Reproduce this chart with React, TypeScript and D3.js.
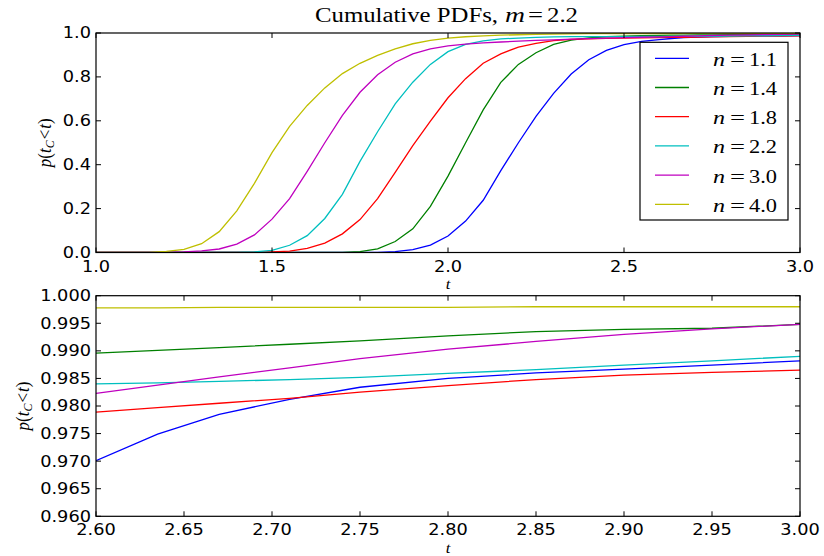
import React from 'react';
import * as d3 from 'd3';

// t grid shared by all series
const T = [1.0, 1.05, 1.1, 1.15, 1.2, 1.25, 1.3, 1.35, 1.4, 1.45, 1.5, 1.55, 1.6, 1.65, 1.7, 1.75, 1.8, 1.85, 1.9, 1.95,
  2.0, 2.05, 2.1, 2.15, 2.2, 2.25, 2.3, 2.35, 2.4, 2.45, 2.5, 2.55, 2.6, 2.635, 2.67, 2.71, 2.75, 2.8, 2.85, 2.9, 2.95, 3.0];

const n11 = [0, 0, 0, 0, 0, 0, 0, 0, 0, 0, 0, 0, 0, 0, 0, 0, 0.001, 0.004, 0.013, 0.034,
  0.075, 0.143, 0.238, 0.373, 0.5, 0.62, 0.725, 0.813, 0.878, 0.921, 0.947, 0.962, 0.9701, 0.9749, 0.9785, 0.9812, 0.9834, 0.985, 0.986, 0.9867, 0.9874, 0.9882];
const n14 = [0, 0, 0, 0, 0, 0, 0, 0, 0, 0, 0, 0, 0, 0.0005, 0.001, 0.004, 0.017, 0.05, 0.108, 0.21,
  0.348, 0.5, 0.65, 0.775, 0.857, 0.91, 0.948, 0.968, 0.978, 0.983, 0.986, 0.988, 0.9896, 0.9901, 0.9906, 0.9912, 0.9918, 0.9927, 0.9935, 0.9939, 0.9941, 0.9948];
const n18 = [0, 0, 0, 0, 0, 0, 0, 0, 0, 0.001, 0.003, 0.006, 0.019, 0.043, 0.085, 0.15, 0.245, 0.365, 0.487, 0.598,
  0.705, 0.792, 0.862, 0.905, 0.936, 0.953, 0.965, 0.971, 0.9735, 0.9752, 0.9766, 0.9778, 0.9789, 0.9797, 0.9805, 0.9814, 0.9825, 0.9837, 0.9848, 0.9856, 0.9861, 0.9865];
const n22 = [0, 0, 0, 0, 0, 0, 0, 0, 0.001, 0.003, 0.01, 0.033, 0.077, 0.155, 0.265, 0.415, 0.55, 0.677, 0.776, 0.857,
  0.915, 0.948, 0.964, 0.973, 0.977, 0.98, 0.982, 0.9832, 0.9836, 0.9838, 0.9839, 0.98395, 0.984, 0.9842, 0.98445, 0.9848, 0.9852, 0.9859, 0.9866, 0.9874, 0.9882, 0.989];
const n30 = [0, 0, 0, 0, 0.001, 0.003, 0.007, 0.016, 0.038, 0.08, 0.152, 0.245, 0.37, 0.5, 0.625, 0.73, 0.81, 0.867, 0.905, 0.928,
  0.941, 0.949, 0.955, 0.959, 0.963, 0.966, 0.969, 0.972, 0.9745, 0.977, 0.979, 0.9807, 0.9823, 0.9838, 0.9853, 0.9869, 0.9886, 0.9903, 0.9917, 0.993, 0.994, 0.9948];
const n40 = [0, 0, 0.0002, 0.001, 0.005, 0.014, 0.04, 0.095, 0.19, 0.315, 0.455, 0.575, 0.67, 0.75, 0.815, 0.862, 0.898, 0.928, 0.951, 0.966,
  0.977, 0.983, 0.987, 0.99, 0.992, 0.994, 0.995, 0.996, 0.9967, 0.9972, 0.9975, 0.9977, 0.9978, 0.9978, 0.9979, 0.9979, 0.9979, 0.9979, 0.998, 0.998, 0.998, 0.998];

const seriesValues = [n11, n14, n18, n22, n30, n40];
const seriesLabels = ['1.1', '1.4', '1.8', '2.2', '3.0', '4.0'];
const seriesColors = ['#0000ff', '#008000', '#ff0000', '#00bfbf', '#bf00bf', '#bfbf00'];

const topXTicks = [1.0, 1.5, 2.0, 2.5, 3.0];
const topXTickLabels = ['1.0', '1.5', '2.0', '2.5', '3.0'];
const topYTicks = [0, 0.2, 0.4, 0.6, 0.8, 1.0];
const topYTickLabels = ['0.0', '0.2', '0.4', '0.6', '0.8', '1.0'];
const botXTicks = [2.6, 2.65, 2.7, 2.75, 2.8, 2.85, 2.9, 2.95, 3.0];
const botXTickLabels = ['2.60', '2.65', '2.70', '2.75', '2.80', '2.85', '2.90', '2.95', '3.00'];
const botYTicks = [0.96, 0.965, 0.97, 0.975, 0.98, 0.985, 0.99, 0.995, 1.0];
const botYTickLabels = ['0.960', '0.965', '0.970', '0.975', '0.980', '0.985', '0.990', '0.995', '1.000'];

const SANS = 'DejaVu Sans, sans-serif';
const SERIF = 'Liberation Serif, Times New Roman, serif';
const SX = 1.11;
const TICK_FS = 16;

function Panel({ id, x0, x1, y0, y1, xDomain, yDomain, xTicks, xLabels, yTicks, yLabels, ylabelX }: any) {
  const xs = d3.scaleLinear().domain(xDomain).range([x0, x1]);
  const ys = d3.scaleLinear().domain(yDomain).range([y1, y0]);
  const line = d3.line<number>().x((_, i) => xs(T[i])).y((v) => ys(v));
  const tl = 5;
  return (
    <g>
      <defs>
        <clipPath id={id}>
          <rect x={x0} y={y0} width={x1 - x0} height={y1 - y0} />
        </clipPath>
      </defs>
      <g clipPath={`url(#${id})`}>
        {seriesValues.map((vals, k) => (
          <path key={k} d={line(vals) || ''} fill="none" stroke={seriesColors[k]} strokeWidth={1.3} />
        ))}
      </g>
      {xTicks.map((t: number, i: number) => (
        <g key={'xt' + i}>
          <line x1={xs(t)} x2={xs(t)} y1={y1} y2={y1 - tl} stroke="#000" strokeWidth={1} />
          <line x1={xs(t)} x2={xs(t)} y1={y0} y2={y0 + tl} stroke="#000" strokeWidth={1} />
          <g transform={`translate(${xs(t)},${y1 + 19}) scale(${SX},1)`}>
            <text textAnchor="middle" fontFamily={SANS} fontSize={TICK_FS} fill="#000">{xLabels[i]}</text>
          </g>
        </g>
      ))}
      {yTicks.map((v: number, i: number) => (
        <g key={'yt' + i}>
          <line x1={x0} x2={x0 + tl} y1={ys(v)} y2={ys(v)} stroke="#000" strokeWidth={1} />
          <line x1={x1} x2={x1 - tl} y1={ys(v)} y2={ys(v)} stroke="#000" strokeWidth={1} />
          <g transform={`translate(${x0 - 5},${ys(v) + 5.4}) scale(${SX},1)`}>
            <text textAnchor="end" fontFamily={SANS} fontSize={TICK_FS} fill="#000">{yLabels[i]}</text>
          </g>
        </g>
      ))}
      <rect x={x0} y={y0} width={x1 - x0} height={y1 - y0} fill="none" stroke="#000" strokeWidth={1.2} />
      <g transform={`translate(${(x0 + x1) / 2},${y1 + 36.5}) scale(${SX},1)`}>
        <text textAnchor="middle" fontFamily={SERIF} fontStyle="italic" fontSize={15}>t</text>
      </g>
      <g transform={`translate(${ylabelX},${(y0 + y1) / 2}) rotate(-90) scale(1,${SX})`}>
        <text textAnchor="middle" fontFamily={SERIF} fontSize={17}>
          <tspan fontStyle="italic">p</tspan>
          <tspan>(</tspan>
          <tspan fontStyle="italic">t</tspan>
          <tspan fontStyle="italic" fontSize={12} dy={3}>C</tspan>
          <tspan dy={-3} dx={1}>&lt;</tspan>
          <tspan fontStyle="italic" dx={1}>t</tspan>
          <tspan>)</tspan>
        </text>
      </g>
    </g>
  );
}

export default function App() {
  const legX0 = 640, legY0 = 42.3, legX1 = 788, legY1 = 220;
  const rowH = 29.2;
  return (
    <svg width={824} height={556} style={{ position: 'absolute', left: 0, top: 0, background: '#fff' }}>
      <rect x={0} y={0} width={824} height={556} fill="#fff" />
      <g fontFamily={SERIF} fontSize={20} fill="#000">
        <text x={315} y={22} textLength={183} lengthAdjust="spacingAndGlyphs">Cumulative PDFs,</text>
        <text x={505} y={22} fontStyle="italic" textLength={20} lengthAdjust="spacingAndGlyphs">m</text>
        <text x={528} y={22} textLength={15} lengthAdjust="spacingAndGlyphs">=</text>
        <text x={547} y={22} textLength={31} lengthAdjust="spacingAndGlyphs">2.2</text>
      </g>
      <Panel id="clipTop" x0={96} x1={800} y0={33} y1={252.5} xDomain={[1, 3]} yDomain={[0, 1]}
        xTicks={topXTicks} xLabels={topXTickLabels} yTicks={topYTicks} yLabels={topYTickLabels} ylabelX={51} />
      <Panel id="clipBot" x0={96} x1={800} y0={295.7} y1={516.3} xDomain={[2.6, 3.0]} yDomain={[0.96, 1.0]}
        xTicks={botXTicks} xLabels={botXTickLabels} yTicks={botYTicks} yLabels={botYTickLabels} ylabelX={29} />
      <rect x={legX0} y={legY0} width={legX1 - legX0} height={legY1 - legY0} fill="#fff" stroke="#000" strokeWidth={1.2} />
      {seriesLabels.map((lab, k) => {
        const y = legY0 + 16 + k * rowH;
        const by = y + 7.4;
        return (
          <g key={k}>
            <line x1={655} x2={689} y1={y} y2={y} stroke={seriesColors[k]} strokeWidth={1.3} />
            <g fontFamily={SERIF} fontSize={18} fill="#000">
              <text x={713} y={by} fontStyle="italic" textLength={12} lengthAdjust="spacingAndGlyphs">n</text>
              <text x={730} y={by} textLength={15} lengthAdjust="spacingAndGlyphs">=</text>
              <text x={749} y={by} textLength={28} lengthAdjust="spacingAndGlyphs">{lab}</text>
            </g>
          </g>
        );
      })}
    </svg>
  );
}
